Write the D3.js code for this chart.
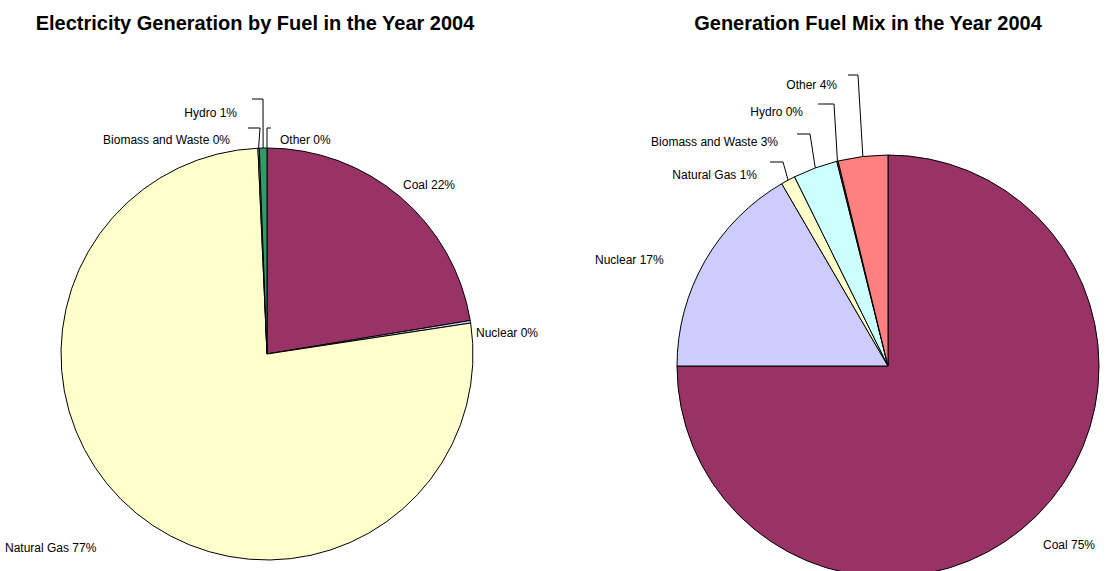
<!DOCTYPE html>
<html>
<head>
<meta charset="utf-8">
<script src="https://cdn.jsdelivr.net/npm/d3@7"></script>
<style>
  html, body { margin: 0; padding: 0; background: #fff; }
  svg { display: block; font-family: "Liberation Sans", Arial, sans-serif; }
</style>
</head>
<body>
<svg id="chart" width="1110" height="571"></svg>
<script>
// Fuel categories shared by both pies
const categories = ["Coal", "Nuclear", "Natural Gas", "Biomass and Waste", "Hydro", "Other"];
// Percentage shares per pie
const leftShares  = [22.4, 0.2, 76.7, 0.1, 0.6, 0.0];
const rightShares = [75.0, 16.6, 1.1, 3.4, 0.1, 3.8];
const leftTitle  = "Electricity Generation by Fuel in the Year 2004";
const rightTitle = "Generation Fuel Mix in the Year 2004";
const sliceColors = ["#993366", "#CCCCFF", "#FFFFCC", "#CCFFFF", "#339966", "#FF8080"];

// Label placement per pie: [x, y, anchor, leader (startX, elbowX, leaderY) or null]
const leftLayout = [
  [403, 189, "start", null],
  [476, 337, "start", null],
  [5,   552, "start", null],
  [230, 144, "end",   [248, 260, 128]],
  [237, 117, "end",   [252, 263, 99]],
  [280, 144, "start", [271, 267, 128]]
];
const rightLayout = [
  [1043, 549, "start", null],
  [595,  264, "start", null],
  [757,  179, "end",   [770, 783, 162]],
  [778,  146, "end",   [797, 810, 134]],
  [803,  116, "end",   [818, 834, 104]],
  [837,  89,  "end",   [848, 858, 75]]
];

const svg = d3.select("#chart");
svg.append("rect").attr("width", 1110).attr("height", 571).attr("fill", "#fff");

const color = d3.scaleOrdinal().domain(categories).range(sliceColors);

function drawPie(shares, cx, cy, r, layout, title, titleX) {
  const data = categories.map((c, i) => ({ cat: c, value: shares[i] }));
  const pie = d3.pie().sort(null).value(d => d.value).startAngle(0).endAngle(2 * Math.PI);
  const arcs = pie(data);
  const arc = d3.arc().innerRadius(0).outerRadius(r);
  const g = svg.append("g").attr("transform", `translate(${cx},${cy})`);

  g.selectAll("path.slice")
    .data(arcs.filter(a => a.data.value > 0))
    .join("path")
    .attr("class", "slice")
    .attr("d", arc)
    .attr("fill", d => color(d.data.cat))
    .attr("stroke", "#000")
    .attr("stroke-width", 1)
    .attr("stroke-linejoin", "round");

  const line = d3.line();
  arcs.forEach((a, i) => {
    const [lx, ly, anchor, leader] = layout[i];
    if (leader) {
      const mid = (a.startAngle + a.endAngle) / 2;
      const px = cx + r * Math.sin(mid);
      const py = cy - r * Math.cos(mid);
      svg.append("path")
        .attr("d", line([[leader[0], leader[2]], [leader[1], leader[2]], [px, py]]))
        .attr("fill", "none")
        .attr("stroke", "#000")
        .attr("stroke-width", 1);
    }
    svg.append("text")
      .attr("x", lx)
      .attr("y", ly)
      .attr("text-anchor", anchor)
      .attr("font-size", 12)
      .attr("fill", "#000")
      .text(`${a.data.cat} ${Math.round(a.data.value)}%`);
  });

  svg.append("text")
    .attr("x", titleX)
    .attr("y", 30)
    .attr("text-anchor", "middle")
    .attr("font-size", 20)
    .attr("font-weight", "bold")
    .attr("fill", "#000")
    .text(title);
}

drawPie(leftShares, 267, 354, 206, leftLayout, leftTitle, 255);
drawPie(rightShares, 888, 366, 211, rightLayout, rightTitle, 868);
</script>
</body>
</html>
